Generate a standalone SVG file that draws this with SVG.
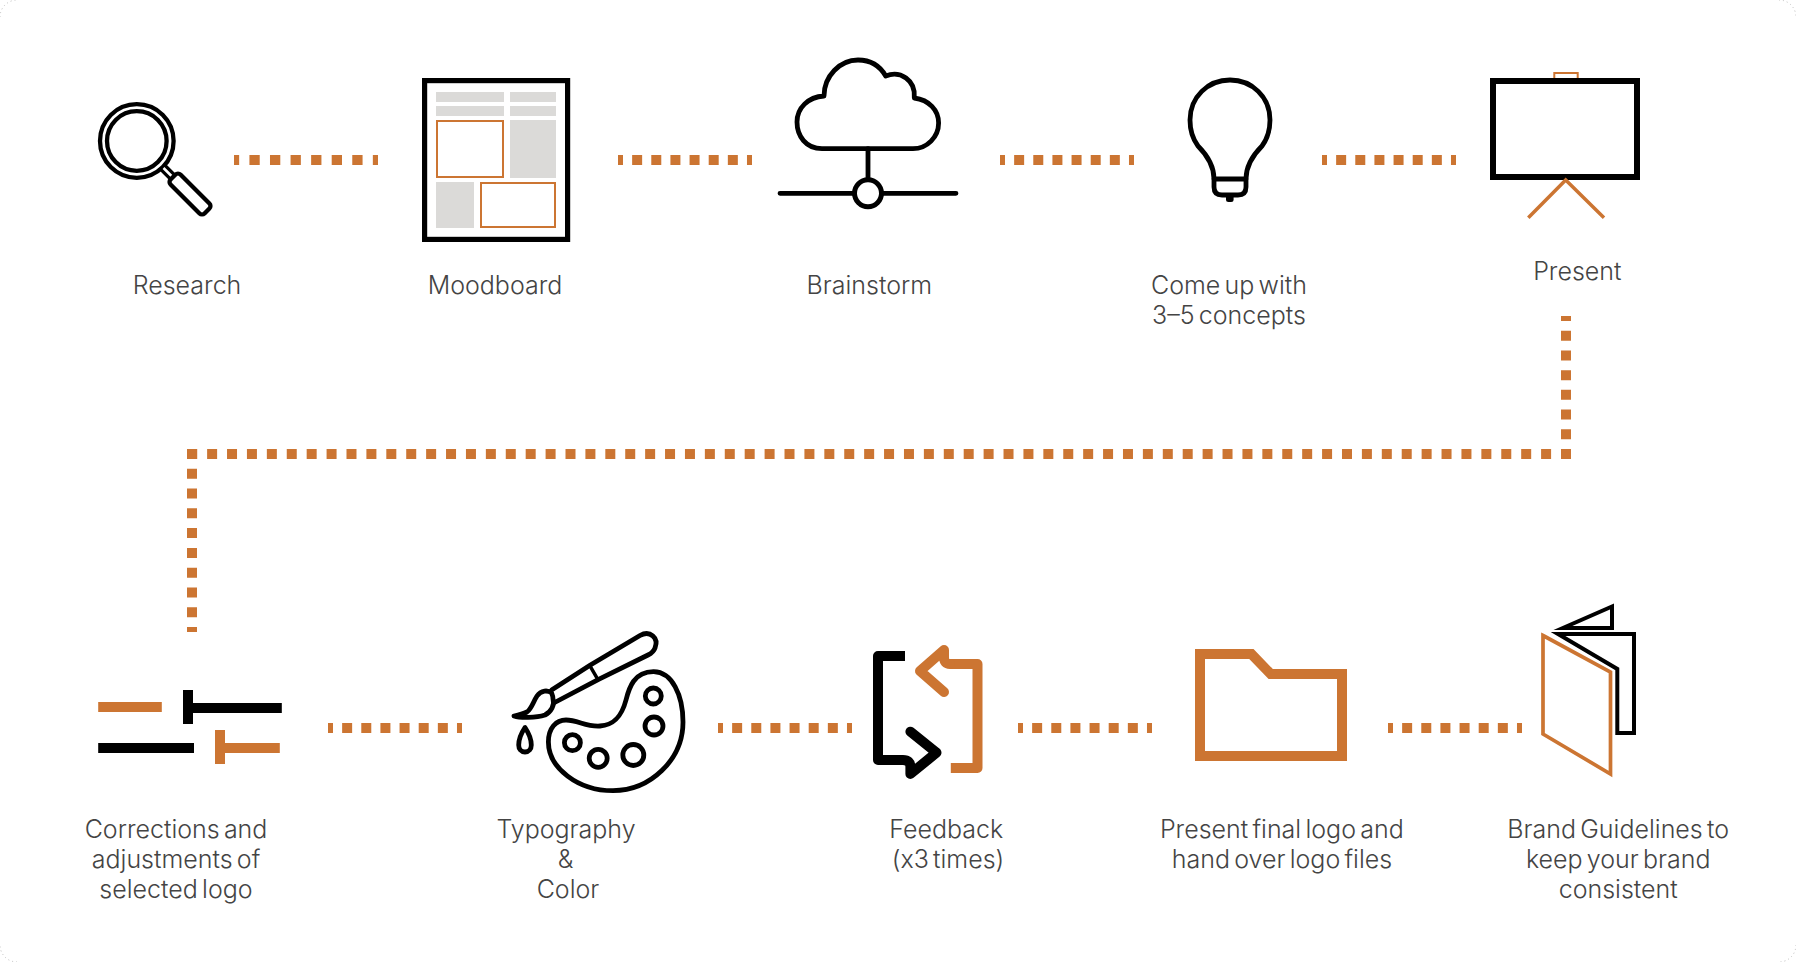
<svg xmlns="http://www.w3.org/2000/svg" width="1796" height="962" viewBox="0 0 1796 962">
<style>
text{font-family:"Inter","Liberation Sans",sans-serif;font-size:25px;word-spacing:-2.800px;fill:#444;text-anchor:middle;font-weight:300}
.k{fill:none;stroke:#000;stroke-width:4.800;stroke-linejoin:round;stroke-linecap:round}
.o{fill:none;stroke:#cc7532}
.b{fill:none;stroke:#000;stroke-width:4;stroke-miterlimit:10}
.g{fill:#dbdad8}
.fo{fill:#cc7532}
.fk{fill:#000}
.d{fill:none;stroke:#cc7532;stroke-width:10}
.d1{stroke-dasharray:10.3 10.270;stroke-dashoffset:5.150}
.d2{stroke-dasharray:10 9.140;stroke-dashoffset:5}
</style>
<rect width="1796" height="962" fill="#fff"/>
<path d="M0 17A17 17 0 0 1 17 0M1779 0A17 17 0 0 1 1796 17M1796 945A17 17 0 0 1 1779 962M17 962A17 17 0 0 1 0 945" fill="none" stroke="#bbb" stroke-width="1" stroke-dasharray="1 3"/>
<g id="connectors">
<path class="d d1" d="M234 160H378"/>
<path class="d d2" d="M618 160H752"/>
<path class="d d2" d="M1000 160H1134"/>
<path class="d d2" d="M1322 160H1456"/>
<path class="d" stroke-dasharray="10 9.710" stroke-dashoffset="5" d="M1566 316V459"/>
<path class="d" stroke-dasharray="10 9.910" d="M1571 454H187"/>
<path class="d" stroke-dasharray="10 9.780" d="M192 449V632"/>
<path class="d d2" d="M328 728H462"/>
<path class="d d2" d="M718 728H852"/>
<path class="d d2" d="M1018 728H1152"/>
<path class="d d2" d="M1388 728H1522"/>
</g>
<g id="research">
<circle cx="136.800" cy="141" r="36.800" fill="none" stroke="#000" stroke-width="4.300"/>
<circle cx="136.800" cy="141" r="29.800" fill="none" stroke="#000" stroke-width="4.300"/>
<path d="M163 167.500L172 176.500" stroke="#000" stroke-width="9"/>
<path d="M163.500 168L172 176.500" stroke="#fff" stroke-width="2.500"/>
<rect x="166" y="187" width="48" height="14" rx="3.500" fill="#fff" stroke="#000" stroke-width="4.300" transform="rotate(45 190 194)"/>
<text x="187" y="294">Research</text>
</g>
<g id="moodboard">
<rect x="424.600" y="80.600" width="143" height="158.800" fill="none" stroke="#000" stroke-width="5.200"/>
<rect class="g" x="436" y="92" width="68" height="10"/><rect class="g" x="510" y="92" width="46" height="10"/>
<rect class="g" x="436" y="106" width="68" height="10"/><rect class="g" x="510" y="106" width="46" height="10"/>
<rect class="g" x="510" y="120" width="46" height="58"/><rect class="g" x="436" y="182" width="38" height="46"/>
<rect class="o" x="437" y="121" width="66" height="56" stroke-width="2"/><rect class="o" x="481" y="183" width="74" height="44" stroke-width="2"/>
<text x="495" y="294">Moodboard</text>
</g>
<g id="brainstorm">
<path class="k" d="M822 148.700C806 148.700 797 136 797 122C797 108 808 97 824 96C824 76 840 60 858 60C870 60 880 66 885.700 76C900 70 916 80 914.300 98C929 100 938.600 110 938.600 123C938.600 137 927 148.700 913 148.700Z"/>
<path class="k" d="M868 148.700V178M780 193.300H854M882 193.300H956"/>
<circle cx="868" cy="193.300" r="13.500" fill="#fff" stroke="#000" stroke-width="5"/>
<text x="869.300" y="294">Brainstorm</text>
</g>
<g id="concepts">
<path class="k" d="M1214 179C1214 164 1206 154 1198 146C1192 138 1190 130 1190 120C1190 97 1208 80 1230 80C1252 80 1270 97 1270 120C1270 130 1268 138 1262 146C1254 154 1246 164 1246 179V187Q1246 195 1238 195H1222Q1214 195 1214 187Z"/>
<path class="k" d="M1214 179H1246"/>
<path class="fk" d="M1226 196h7.600v3.500a2.500 2.500 0 0 1-2.500 2.500h-2.600a2.500 2.500 0 0 1-2.500-2.500z"/>
<text x="1229" y="294">Come up with</text><text x="1229" y="324">3–5 concepts</text>
</g>
<g id="present">
<rect class="o" x="1554.300" y="73" width="23.400" height="8" stroke-width="2"/>
<rect x="1493" y="81" width="144" height="96" fill="#fff" stroke="#000" stroke-width="6"/>
<path class="o" d="M1528.300 217.700L1565.700 180L1604 217.700" stroke-width="3.500"/>
<text x="1577.300" y="280">Present</text>
</g>
<g id="corrections">
<rect class="fo" x="98.200" y="702" width="63.600" height="10"/>
<rect class="fk" x="183" y="690" width="10" height="34"/><rect class="fk" x="193" y="703" width="88.800" height="10"/>
<rect class="fk" x="98.200" y="743" width="95.800" height="10"/>
<rect class="fo" x="215" y="730" width="10" height="34"/><rect class="fo" x="225" y="743" width="54.800" height="10"/>
<text x="176" y="838">Corrections and</text><text x="176" y="868">adjustments of</text><text x="176" y="898">selected logo</text>
</g>
<g id="typography">
<path class="k" d="M551.600 690L590.400 665L640 635.500C650 630 659 638 655 648C654 651 652 653 648 655L598.600 679.300L553.700 703"/>
<path class="k" d="M590.400 666.700L597.800 679.300" style="stroke-width:3.500"/>
<path class="k" d="M551.600 693C548 690 541 690 537 696C533 702 532 708 527 712C523 714 519 715 514 716C520 718 536 718 545 715C551 712 555 705 553 699C553 696 552 694 551.600 693Z"/>
<path class="k" d="M653.700 671.700C672 672 683 695 683 722C683 760 650 790.700 613 790.700C578 790.700 548.400 768 548.400 742C548.400 728 556 720 566 720C578 720 586 727 600 726C615 725 622 715 626 700C629 688 634 671.500 653.700 671.700Z"/>
<circle class="k" cx="653.300" cy="696" r="8"/>
<circle class="k" cx="654" cy="726" r="9"/>
<circle class="k" cx="633.300" cy="755" r="10.500"/>
<circle class="k" cx="598.200" cy="758.300" r="9"/>
<circle class="k" cx="572.400" cy="742.700" r="8"/>
<path class="k" d="M525 727.500C520 735 518.700 740 518.700 745C518.700 749 521 752 525 752C529 752 531.300 749 531.300 745C531.300 740 530 735 525 727.500Z"/>
<text x="566" y="838">Typography</text><text x="565.500" y="868">&amp;</text><text x="568" y="898">Color</text>
</g>
<g id="feedback">
<path d="M905 656H878V760H903" fill="none" stroke="#000" stroke-width="10" stroke-linejoin="round"/>
<path class="k" style="stroke-width:10" d="M903 760Q910.400 760 910.400 767V774L936.500 752.700L910.400 731.700"/>
<path d="M950.800 768H977.500V664H950" fill="none" stroke="#cc7532" stroke-width="10" stroke-linejoin="round"/>
<path class="k" style="stroke-width:10;stroke:#cc7532" d="M950 664Q944 664 944 657V650L920 671L944 692"/>
<text x="946.300" y="838">Feedback</text><text x="948" y="868">(x3 times)</text>
</g>
<g id="final-files">
<path d="M1200 654H1251.400L1270.700 674H1342V756H1200Z" fill="none" stroke="#cc7532" stroke-width="10"/>
<text x="1281.800" y="838">Present final logo and</text><text x="1282" y="868">hand over logo files</text>
</g>
<g id="guidelines">
<path class="b" d="M1612 606.500V628H1563Z"/>
<path class="b" d="M1558 634H1634V733H1617.300V669Z"/>
<path class="o" stroke-width="3.700" stroke-miterlimit="10" d="M1543 635.500L1610.500 672V774L1543 734Z"/>
<text x="1618.200" y="838">Brand Guidelines to</text><text x="1618.200" y="868">keep your brand</text><text x="1618.200" y="898">consistent</text>
</g>
</svg>
